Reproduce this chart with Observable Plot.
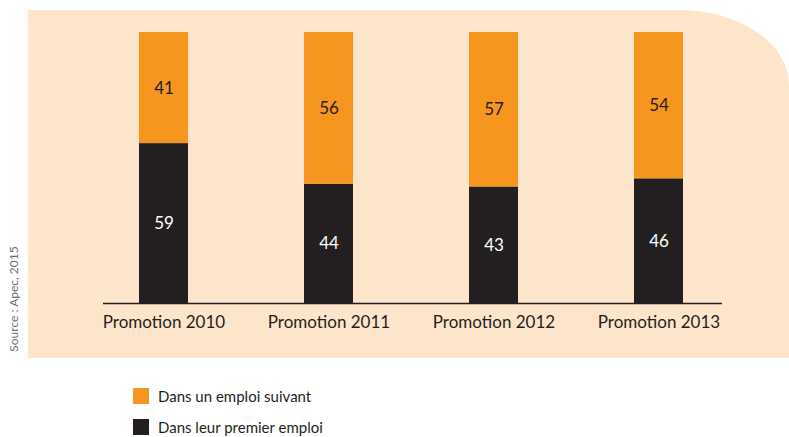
<!DOCTYPE html>
<html>
<head>
<meta charset="utf-8">
<script src="https://cdn.jsdelivr.net/npm/d3@7"></script>
<script src="https://cdn.jsdelivr.net/npm/@observablehq/plot@0.6"></script>
<style>
  html, body { margin: 0; padding: 0; background: #ffffff; }
  #wrap { position: relative; width: 789px; height: 437px; overflow: hidden; font-family: Lato, "Noto Sans", sans-serif; color: #231f20; }
  #panel { position: absolute; left: 28px; top: 10px; width: 761px; height: 348px; background: #fde5cb; border-top-right-radius: 110px 75px; }
  #chart { position: absolute; left: 0; top: 0; }
  #source { position: absolute; left: 13px; top: 299px; transform: translate(-50%, -50%) rotate(-90deg); white-space: nowrap; font-size: 12px; color: #6d6e71; }
  .leg { position: absolute; left: 133px; display: flex; align-items: center; font-size: 15px; line-height: 18px; color: #231f20; }
  .sw { width: 16px; height: 16px; margin-right: 9px; }
</style>
</head>
<body>
<div id="wrap">
  <div id="panel"></div>
  <div id="chart"></div>
  <div id="source">Source : Apec, 2015</div>
  <div class="leg" style="top:387px"><div class="sw" style="background:#f7961e"></div>Dans un emploi suivant</div>
  <div class="leg" style="top:418px"><div class="sw" style="background:#231f20"></div>Dans leur premier emploi</div>
</div>
<script>
const promotions = ["Promotion 2010", "Promotion 2011", "Promotion 2012", "Promotion 2013"];
const premierEmploi = [59, 44, 43, 46];
const emploiSuivant = [41, 56, 57, 54];
const series = ["Dans leur premier emploi", "Dans un emploi suivant"];
const colors = ["#231f20", "#f7961e"];

const data = [];
promotions.forEach((p, i) => {
  data.push({promotion: p, type: series[0], value: premierEmploi[i]});
  data.push({promotion: p, type: series[1], value: emploiSuivant[i]});
});

const chart = Plot.plot({
  width: 789,
  height: 358,
  marginLeft: 81,
  marginRight: 48,
  marginTop: 32,
  marginBottom: 55,
  style: {background: "transparent", fontFamily: "Lato, 'Noto Sans', sans-serif", fontSize: "17px", color: "#231f20"},
  x: {domain: promotions, padding: 0, label: null},
  y: {domain: [0, 100], axis: null},
  color: {domain: series, range: colors},
  marks: [
    Plot.barY(data, {x: "promotion", y: "value", fill: "type", insetLeft: 58, insetRight: 58}),
    Plot.ruleY([0], {stroke: "#231f20", strokeWidth: 1.5, insetLeft: 22, insetRight: 19}),
    Plot.text(data, Plot.stackY({x: "promotion", y: "value", text: d => d.type === series[0] ? String(d.value) : null, fill: "#ffffff", fontSize: 17})),
    Plot.text(data, Plot.stackY({x: "promotion", y: "value", text: d => d.type === series[1] ? String(d.value) : null, fill: "#231f20", fontSize: 17})),
    Plot.axisX({tickSize: 0, tickPadding: 12, fontSize: 17, fill: "#231f20", label: null})
  ]
});
document.getElementById("chart").appendChild(chart);
</script>
</body>
</html>
